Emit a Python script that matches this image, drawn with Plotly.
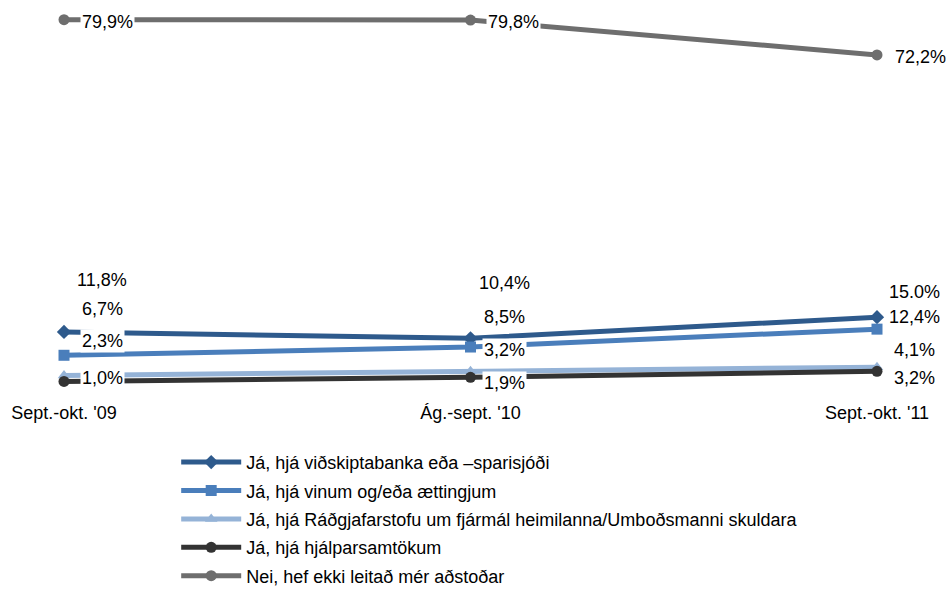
import plotly.graph_objects as go

periods = ["Sept.-okt. '09", "Ág.-sept. '10", "Sept.-okt. '11"]
series_names = [
    "Já, hjá viðskiptabanka eða –sparisjóði",
    "Já, hjá vinum og/eða ættingjum",
    "Já, hjá Ráðgjafarstofu um fjármál heimilanna/Umboðsmanni skuldara",
    "Já, hjá hjálparsamtökum",
    "Nei, hef ekki leitað mér aðstoðar",
]
bank = [11.8, 10.4, 15.0]
family = [6.7, 8.5, 12.4]
advisory = [2.3, 3.2, 4.1]
charity = [1.0, 1.9, 3.2]
none_ = [79.9, 79.8, 72.2]
labels = [
    ["11,8%", "10,4%", "15.0%"],
    ["6,7%", "8,5%", "12,4%"],
    ["2,3%", "3,2%", "4,1%"],
    ["1,0%", "1,9%", "3,2%"],
    ["79,9%", "79,8%", "72,2%"],
]
values = [bank, family, advisory, charity, none_]

colors = ["#2E5A8C", "#4A7EBB", "#95B3D7", "#333333", "#6E6E6E"]
symbols = ["diamond", "square", "triangle-up", "circle", "circle"]
# label offsets (px) relative to each point
xshifts = [[38, 34, 37], [38, 34, 37], [38, 34, 37], [38, 34, 37], [43, 43, 43]]
yshifts = [[52, 55, 25], [46, 30, 12], [34, 21, 17], [3, -6, -7], [-2, -2, -2]]

FONT = "Liberation Sans, Arial"
x = list(range(len(periods)))

fig = go.Figure()
for i, name in enumerate(series_names):
    fig.add_trace(go.Scatter(
        x=x, y=values[i], name=name, mode="lines+markers",
        legendgroup=f"g{i}",
        line=dict(color=colors[i], width=5),
        marker=dict(symbol=symbols[i], size=11, color=colors[i]),
        cliponaxis=False,
    ))

annotations = []
for i in range(len(series_names)):
    for j in x:
        annotations.append(dict(
            x=j, y=values[i][j], text=labels[i][j], showarrow=False,
            xanchor="center", yanchor="middle",
            xshift=xshifts[i][j], yshift=yshifts[i][j],
            bgcolor="white", font=dict(size=18, color="black", family=FONT),
        ))

fig.update_layout(
    width=949, height=589,
    margin=dict(l=64, r=72, t=10, b=203, autoexpand=False),
    plot_bgcolor="white", paper_bgcolor="white",
    annotations=annotations,
    showlegend=True,
    legend=dict(
        x=0.138, y=-0.154, xanchor="left", yanchor="top",
        font=dict(size=18, color="black", family=FONT),
        tracegroupgap=2, itemwidth=60,
    ),
    font=dict(family=FONT, color="black"),
)
fig.update_xaxes(
    tickvals=x, ticktext=periods, range=[0, 2],
    showgrid=False, zeroline=False, showline=False,
    tickfont=dict(size=18, family=FONT, color="black"),
    ticklabelstandoff=14,
)
fig.update_yaxes(range=[0, 82], visible=False)

# drop the default page margin so the figure sits at the window's corner
fig.write_html(
    "out.html",
    config={"displayModeBar": False},
    post_script="document.body.style.margin='0';document.body.style.overflow='hidden';",
)
